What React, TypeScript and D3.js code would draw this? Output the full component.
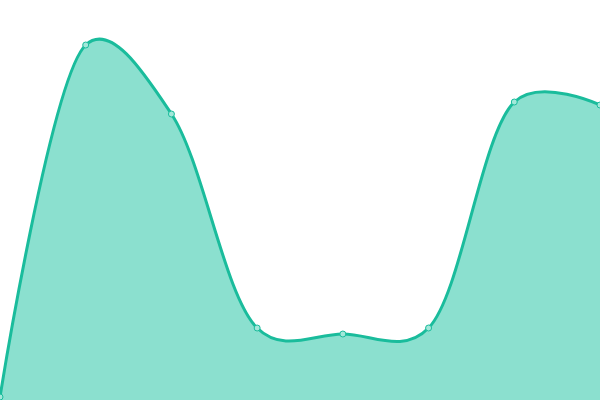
import { useEffect, useRef } from "react";
import * as d3 from "d3";

const width = 600;
const height = 400;

// one value per point (0 = bottom edge, 400 = top edge)
const labels = ["p1", "p2", "p3", "p4", "p5", "p6", "p7", "p8"];
const values = [3, 355, 286, 72, 66, 72, 298, 295];

export default function App() {
  const ref = useRef<SVGSVGElement>(null);

  useEffect(() => {
    const svg = d3.select(ref.current);
    svg.selectAll("*").remove();

    const x = d3
      .scalePoint()
      .domain(labels)
      .range([0, width]);
    const y = d3.scaleLinear().domain([0, 400]).range([height, 0]);

    const data = labels.map((l, i) => ({ label: l, value: values[i] }));
    const curve = d3.curveCatmullRom.alpha(0.25);

    const area = d3
      .area<{ label: string; value: number }>()
      .x((d) => x(d.label)!)
      .y0(y(0))
      .y1((d) => y(d.value))
      .curve(curve);

    const line = d3
      .line<{ label: string; value: number }>()
      .x((d) => x(d.label)!)
      .y((d) => y(d.value))
      .curve(curve);

    svg
      .append("path")
      .datum(data)
      .attr("d", area)
      .attr("fill", "#8be0cf");

    svg
      .append("path")
      .datum(data)
      .attr("d", line)
      .attr("fill", "none")
      .attr("stroke", "#1abc9c")
      .attr("stroke-width", 3);

    svg
      .append("g")
      .selectAll("circle")
      .data(data)
      .join("circle")
      .attr("cx", (d) => x(d.label)!)
      .attr("cy", (d) => y(d.value))
      .attr("r", 3)
      .attr("fill", "#a3e8da")
      .attr("stroke", "#1abc9c")
      .attr("stroke-width", 1);
  }, []);

  return (
    <svg
      ref={ref}
      width={width}
      height={height}
      style={{ position: "absolute", left: 0, top: 0, background: "#fff" }}
    ></svg>
  );
}
